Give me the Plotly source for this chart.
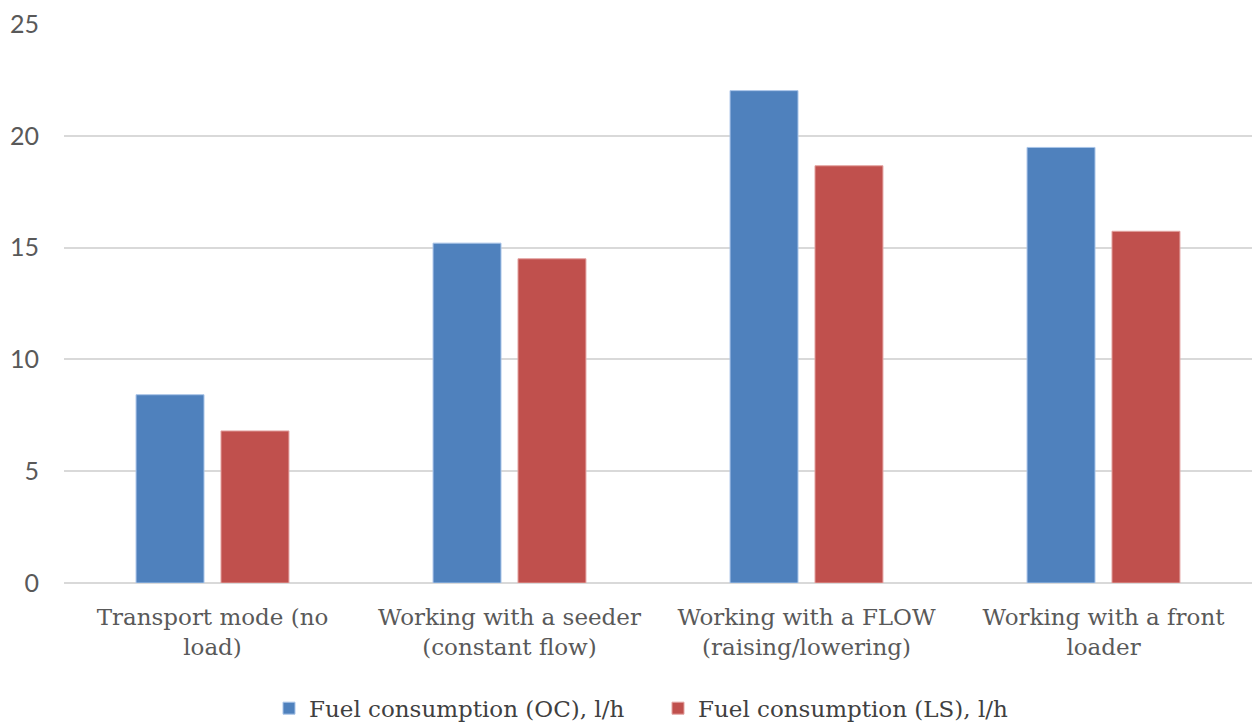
import plotly.graph_objects as go

categories = ["Transport mode (no<br>load)", "Working with a seeder<br>(constant flow)",
              "Working with a FLOW<br>(raising/lowering)", "Working with a front<br>loader"]
oc_values = [8.42, 15.2, 22.02, 19.48]
ls_values = [6.8, 14.5, 18.66, 15.73]
series_names = ["Fuel consumption (OC), l/h", "Fuel consumption (LS), l/h"]
y_ticks = [0, 5, 10, 15, 20, 25]

serif = "DejaVu Serif, serif"
sans = "Lato, Open Sans, sans-serif"

fig = go.Figure()
fig.add_trace(go.Bar(x=categories, y=oc_values, name=series_names[0],
                     marker=dict(color="#4F81BD", line=dict(color="#A9C4E8", width=1))))
fig.add_trace(go.Bar(x=categories, y=ls_values, name=series_names[1],
                     marker=dict(color="#C0504D", line=dict(color="#E3A3A1", width=1))))

fig.update_layout(
    width=1252, height=722,
    margin=dict(l=64, r=0, t=24, b=139, autoexpand=False),
    paper_bgcolor="white", plot_bgcolor="white",
    barmode="group", bargap=0.428, bargroupgap=0.2,
    showlegend=True,
    legend=dict(orientation="h", x=0.5, xanchor="center", y=-0.224, yanchor="middle",
                font=dict(family=serif, size=23, color="#404040"),
                itemwidth=30, tracegroupgap=0, entrywidth=344, entrywidthmode="pixels"),
    xaxis=dict(tickfont=dict(family=serif, size=23, color="#595959"),
               showgrid=False, showline=False, ticks="", automargin=False,
               ticklabelstandoff=18),
    yaxis=dict(range=[0, 25], tickvals=y_ticks, ticks="", automargin=False,
               tickfont=dict(family=sans, size=25, color="#595959"),
               showgrid=True, gridcolor="#D9D9D9", gridwidth=1.5,
               zeroline=True, zerolinecolor="#D9D9D9", zerolinewidth=1.5,
               ticklabelstandoff=24),
)

fig.write_html("out.html", config={"displayModeBar": False},
               post_script="document.body.style.margin='0px';")
